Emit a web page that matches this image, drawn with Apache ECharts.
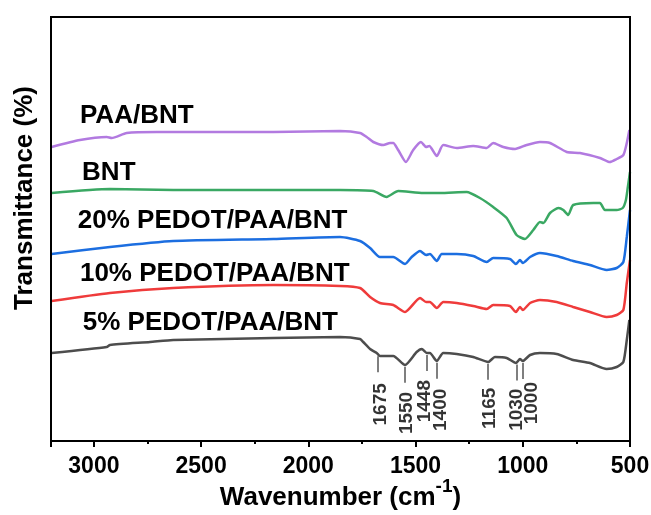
<!DOCTYPE html>
<html>
<head>
<meta charset="utf-8">
<script src="https://cdn.jsdelivr.net/npm/echarts@6/dist/echarts.min.js"></script>
<style>
  html, body { margin: 0; padding: 0; background: #fff; }
  #wrap { position: relative; width: 651px; height: 515px; }
  #chart { width: 651px; height: 515px; }
  #frame { position: absolute; box-sizing: border-box; border: 2px solid #000; pointer-events: none; }
</style>
</head>
<body>
<div id="wrap"><div id="chart"></div><div id="frame"></div></div>
<script>
// FTIR spectra, wavenumber (cm-1) vs transmittance (arbitrary offset units)
var seriesNames = ['PAA/BNT', 'BNT', '20% PEDOT/PAA/BNT', '10% PEDOT/PAA/BNT', '5% PEDOT/PAA/BNT'];

var paaWn = [3197, 3065, 2940, 2917, 2847, 2707, 2474, 2163, 1852, 1759, 1728, 1697, 1650, 1619, 1604, 1581, 1545, 1511, 1475, 1451, 1436, 1401, 1371, 1308, 1231, 1168, 1138, 1091, 1036, 982, 920, 873, 795, 733, 640, 594, 562, 531, 515, 503];
var paaT  = [294, 301, 304, 303, 308, 309, 309, 309, 310, 308, 304, 299, 296, 298, 298, 291, 279, 291, 299, 294, 295, 285, 296, 293, 295, 293, 298, 294, 292, 296, 299, 298, 289, 288, 283, 279, 282, 286, 298, 311];

var bntWn = [3197, 2925, 2630, 2163, 1852, 1697, 1635, 1581, 1464, 1386, 1262, 1200, 1138, 1075, 1029, 990, 951, 920, 904, 873, 834, 811, 788, 765, 671, 640, 617, 562, 534, 519, 510, 500];
var bntT  = [248, 252, 251, 251, 251, 250, 244, 250, 248, 248, 249, 243, 234, 223, 206, 202, 211, 219, 218, 228, 233, 231, 226, 236, 238, 238, 231, 231, 233, 241, 254, 269];

var p20Wn = [3197, 2925, 2630, 2163, 1852, 1759, 1712, 1666, 1604, 1549, 1518, 1479, 1451, 1433, 1401, 1378, 1308, 1231, 1168, 1138, 1060, 1032, 1013, 1000, 966, 920, 842, 765, 687, 609, 562, 531, 515, 500];
var p20T  = [187, 194, 200, 202, 204, 200, 193, 184, 184, 177, 184, 190, 186, 187, 180, 187, 187, 185, 179, 183, 182, 177, 181, 178, 184, 188, 185, 180, 176, 171, 173, 179, 204, 231];

var p10Wn = [3197, 2925, 2630, 2163, 1852, 1759, 1712, 1666, 1604, 1549, 1479, 1451, 1433, 1401, 1371, 1308, 1231, 1168, 1138, 1060, 1032, 1013, 1000, 966, 920, 842, 765, 687, 609, 562, 531, 515, 500];
var p10T  = [140, 148, 153, 156, 155, 153, 144, 138, 136, 129, 143, 139, 139, 133, 139, 138, 135, 132, 136, 135, 129, 134, 131, 138, 141, 139, 134, 129, 124, 126, 131, 158, 181];

var p5Wn = [3197, 2940, 2925, 2738, 2630, 2163, 1852, 1759, 1744, 1712, 1681, 1666, 1604, 1549, 1495, 1471, 1448, 1433, 1401, 1371, 1308, 1231, 1161, 1130, 1075, 1032, 1013, 1000, 966, 920, 842, 765, 687, 609, 562, 531, 515, 503];
var p5T  = [88, 94, 96, 99, 101, 103, 104, 102, 99, 92, 88, 85, 85, 76, 89, 92, 88, 88, 80, 88, 87, 84, 79, 84, 83, 78, 82, 80, 86, 88, 87, 81, 78, 72, 74, 79, 101, 121];

var peakWn = [1675, 1550, 1448, 1400, 1165, 1030, 1000];
var xTicks = [500, 1000, 1500, 2000, 2500, 3000];

var X_MIN = 500, X_MAX = 3200, Y_MIN = 0, Y_MAX = 424;

var FONT = '"Liberation Sans", Arial, sans-serif';
var colors = ['#b27ae0', '#3aa863', '#1c6ee0', '#ef3b3b', '#4d4d4d'];
var spectra = [[paaWn, paaT], [bntWn, bntT], [p20Wn, p20T], [p10Wn, p10T], [p5Wn, p5T]];
// where each name label sits (wavenumber, y)
var nameAt = [[3065, 325], [3055, 268], [3075, 220], [3065, 167], [3052, 118]];

// plot area layout (px)
var GRID = { left: 51, right: 21, top: 17, bottom: 74 };

function zip(a, b) {
    var out = [];
    for (var i = 0; i < a.length; i++) out.push([a[i], b[i]]);
    return out;
}
function interp(wn, t, w) {
    for (var i = 0; i < wn.length - 1; i++) {
        if (w <= wn[i] && w >= wn[i + 1]) {
            var f = (wn[i] - w) / (wn[i] - wn[i + 1]);
            return t[i] + f * (t[i + 1] - t[i]);
        }
    }
    return t[t.length - 1];
}

var myChart = echarts.init(document.getElementById('chart'));

var series = spectra.map(function (s, k) {
    return {
        name: seriesNames[k],
        type: 'line',
        symbol: 'none',
        smooth: 0.2,
        data: zip(s[0], s[1]),
        lineStyle: { color: colors[k], width: 2.5 },
        itemStyle: { color: colors[k] },
        z: 3,
        markPoint: {
            symbol: 'circle',
            symbolSize: 0,
            silent: true,
            data: [{ coord: nameAt[k], value: seriesNames[k] }],
            label: {
                show: true,
                position: 'right',
                distance: 0,
                formatter: seriesNames[k],
                color: '#000',
                fontFamily: FONT,
                fontWeight: 'bold',
                fontSize: 26
            }
        }
    };
});

// peak marker lines on the 5% curve, labels below them
var dx = [3, 2, -2, 4, 2, 0, 9];     // sideways nudge of each label (px)
var gap = [11, 9, 9, 10, 8, 8, 3];   // space between line end and label (px)
var lines = [], peakLabels = [];
peakWn.forEach(function (w, i) {
    var top = interp(p5Wn, p5T, w) - 2;
    var bottom = top - 16;
    lines.push([{ coord: [w, top] }, { coord: [w, bottom] }]);
    peakLabels.push({
        value: [w, bottom],
        label: { offset: [-gap[i], dx[i]] }
    });
});
series[4].markLine = {
    silent: true,
    symbol: ['none', 'none'],
    label: { show: false },
    lineStyle: { color: '#555', width: 1.5, type: 'solid' },
    data: lines
};
series.push({
    type: 'scatter',
    symbolSize: 0,
    silent: true,
    data: peakLabels,
    label: {
        show: true,
        position: [0, 0],
        rotate: 90,
        align: 'right',
        verticalAlign: 'middle',
        formatter: function (p) { return String(peakWn[p.dataIndex]); },
        color: '#000',
        fontFamily: FONT,
        fontWeight: 'bold',
        fontSize: 19
    }
});

var option = {
    animation: false,
    grid: { left: GRID.left, right: GRID.right, top: GRID.top, bottom: GRID.bottom, outerBoundsMode: 'none', containLabel: false },
    xAxis: {
        type: 'value',
        min: X_MIN,
        max: X_MAX,
        interval: 500,
        inverse: true,
        name: '{a|Wavenumber (cm}{s|-1}{a|)}',
        nameLocation: 'middle',
        nameGap: 36,
        nameMoveOverlap: false,
        nameTextStyle: {
            rich: {
                a: { fontFamily: FONT, fontWeight: 'bold', fontSize: 26, color: '#000' },
                s: { fontFamily: FONT, fontWeight: 'bold', fontSize: 19, color: '#000', padding: [0, 0, 22, 0] }
            }
        },
        axisLine: { show: true, onZero: false, lineStyle: { color: '#000', width: 2 } },
        axisTick: { show: true, length: 6, lineStyle: { color: '#000', width: 2 } },
        minorTick: { show: true, splitNumber: 2, length: 3, lineStyle: { color: '#000', width: 2 } },
        splitLine: { show: false },
        axisLabel: {
            showMaxLabel: false,
            margin: 14,
            color: '#000',
            fontFamily: FONT,
            fontWeight: 'bold',
            fontSize: 23,
            formatter: function (v) { return xTicks.indexOf(v) >= 0 ? String(v) : ''; }
        }
    },
    yAxis: {
        type: 'value',
        min: Y_MIN,
        max: Y_MAX,
        name: 'Transmittance (%)',
        nameLocation: 'middle',
        nameGap: 13,
        nameMoveOverlap: false,
        nameTextStyle: { fontFamily: FONT, fontWeight: 'bold', fontSize: 26, color: '#000', padding: [0, 0, 0, 62] },
        axisLine: { show: true, onZero: false, lineStyle: { color: '#000', width: 2 } },
        axisTick: { show: false },
        axisLabel: { show: false },
        splitLine: { show: false }
    },
    series: series
};

myChart.setOption(option);

// box round the plot area, from the same layout as the grid
var frame = document.getElementById('frame');
frame.style.left = (GRID.left - 1) + 'px';
frame.style.top = (GRID.top - 1) + 'px';
frame.style.width = (651 - GRID.left - GRID.right + 2) + 'px';
frame.style.height = (515 - GRID.top - GRID.bottom + 2) + 'px';

window.addEventListener('resize', function () { myChart.resize(); });
</script>
</body>
</html>
